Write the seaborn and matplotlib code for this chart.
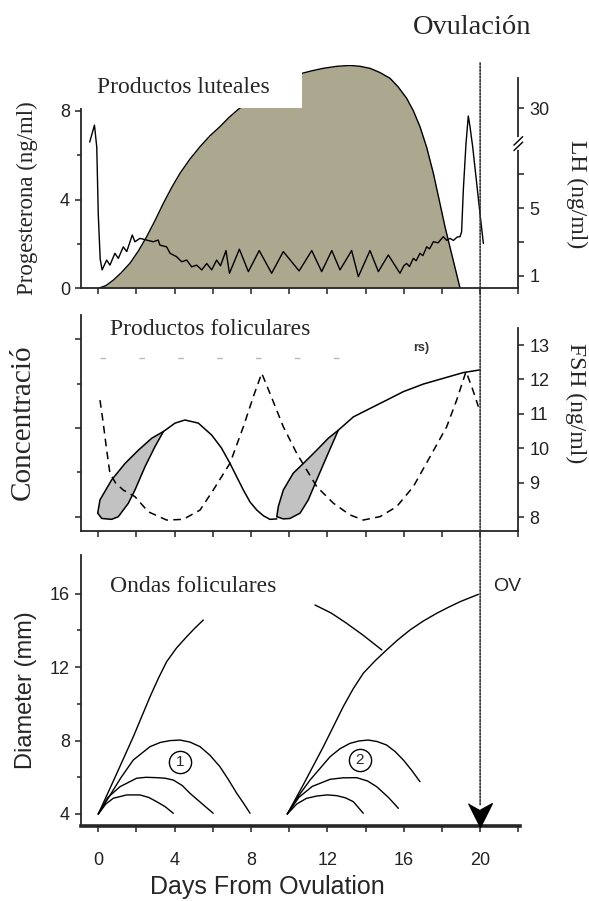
import numpy as np
import seaborn as sns
import matplotlib.pyplot as plt
from matplotlib.patches import Rectangle, ConnectionPatch

# ---------------- datos ----------------
# Panel superior: progesterona (ng/ml) y LH (posicion en el eje quebrado)
prog_day = [0, 0.4, 0.79, 1.2, 1.66, 2.1, 2.53, 2.97, 3.41, 3.85, 4.28, 4.8, 5.33, 5.85,
            6.37, 6.85, 7.33, 8.3, 9.3, 10.0, 10.65, 11.2, 11.79, 12.5, 13.19, 13.7,
            14.23, 14.75, 15.28, 15.7, 16.15, 16.5, 16.85, 17.2, 17.55, 17.85, 18.16,
            18.55, 18.95]
prog_val = [0, 0.12, 0.37, 0.7, 1.13, 1.68, 2.32, 3.05, 3.83, 4.55, 5.18, 5.82, 6.38,
            6.87, 7.28, 7.7, 8.06, 8.65, 9.15, 9.45, 9.68, 9.8, 9.91, 10.0, 10.04, 10.0,
            9.91, 9.72, 9.46, 9.08, 8.56, 8.0, 7.28, 6.35, 5.18, 4.0, 2.77, 1.4, 0]

lh_day = [-0.45, -0.2, -0.08, 0.0, 0.1, 0.2, 0.44, 0.61, 0.87, 1.05, 1.31, 1.49, 1.78,
          1.92, 2.18, 2.53, 2.88, 3.14, 3.23, 3.58, 3.76, 4.1, 4.37, 4.63, 4.89, 5.15,
          5.42, 5.68, 5.94, 6.2, 6.4, 6.69, 6.87, 7.39, 7.86, 8.43, 9.08, 9.69, 10.52,
          11.18, 11.7, 12.23, 12.66, 13.27, 13.62, 14.23, 14.67, 15.19, 15.8, 16.0,
          16.15, 16.3, 16.5, 16.65, 16.85, 17.0, 17.2, 17.35, 17.55, 17.8, 18.07, 18.25,
          18.42, 18.6, 18.8, 18.95, 19.03, 19.12, 19.26, 19.38, 19.47, 19.61, 19.82,
          20.03, 20.17]
lh_val = [3.95, 4.45, 3.8, 1.8, 0.5, 0.18, 0.47, 0.32, 0.67, 0.52, 0.86, 0.72, 1.21,
          1.01, 1.11, 1.06, 1.01, 1.06, 0.91, 0.86, 0.67, 0.57, 0.42, 0.47, 0.27, 0.32,
          0.18, 0.37, 0.18, 0.47, 0.3, 0.75, 0.08, 0.79, 0.13, 0.75, 0.08, 0.72, 0.15,
          0.75, 0.13, 0.75, 0.18, 0.75, -0.02, 0.75, 0.13, 0.62, 0.08, 0.3,
          0.37, 0.28, 0.52, 0.45, 0.67, 0.6, 0.86, 0.8, 1.01, 0.98, 1.16, 1.05,
          1.11, 1.05, 1.15, 1.16, 1.31, 2.54, 3.91, 4.72, 4.4, 3.81, 2.73,
          1.65, 0.96]
lh_tick_pos = [0, 1, 2, 3, 4.95]
lh_tick_lab = ['1', '', '5', '', '30']

# Panel medio: productos foliculares (unidades relativas) y FSH (ng/ml)
e1_day = [-0.03, 0.18, 0.70, 1.05, 1.57, 1.92, 2.45, 2.97, 3.41, 4.02, 4.54, 5.24,
          5.94, 6.45, 6.9, 7.25, 7.6, 7.95, 8.3, 8.65, 8.99, 9.35]
e1_val = [0.08, -0.04, -0.06, 0.0, 0.3, 0.6, 1.13, 1.58, 1.92, 2.11, 2.18, 2.11,
          1.84, 1.55, 1.2, 0.9, 0.6, 0.33, 0.15, 0.02, -0.06, -0.05]
leaf1_day = [-0.03, 0.09, 0.70, 1.40, 2.1, 2.8, 3.41]
leaf1_val = [0.08, 0.38, 0.83, 1.2, 1.5, 1.77, 1.92]

e2_day = [9.35, 9.69, 10.04, 10.57, 11.0, 11.44, 11.96, 12.57, 13.36, 14.23, 15.11,
          15.98, 17.02, 18.07, 19.12, 19.99]
e2_val = [0.0, -0.05, -0.04, 0.08, 0.38, 0.83, 1.35, 1.95, 2.25, 2.44, 2.63,
          2.82, 2.99, 3.12, 3.25, 3.31]
leaf2_day = [9.35, 9.43, 9.69, 10.21, 10.74, 11.44, 12.05, 12.57]
leaf2_val = [0.0, 0.23, 0.6, 0.98, 1.2, 1.5, 1.77, 1.95]

fsh_day = [0.09, 0.26, 0.44, 0.61, 0.9, 1.31, 1.92, 2.62, 3.58, 4.45, 5.33, 6.02,
           6.9, 7.6, 8.12, 8.56, 8.99, 9.69, 10.39, 11.44, 12.31, 13.18, 13.88, 14.76,
           15.63, 16.5, 17.38, 18.25, 18.77, 19.26, 19.56, 19.91]
fsh_val = [11.4, 10.73, 9.95, 9.28, 9.0, 8.79, 8.6, 8.16, 7.92, 7.94, 8.21, 8.79,
           9.57, 10.63, 11.5, 12.18, 11.6, 10.63, 9.86, 8.89, 8.41, 8.07, 7.92, 8.02,
           8.31, 8.89, 9.76, 10.63, 11.4, 12.23, 11.79, 11.21]
fsh_ticks = [8, 9, 10, 11, 12, 13]

# Panel inferior: ondas foliculares, diametro (mm)
dom1_day = [0, 0.79, 1.83, 2.71, 3.15, 3.58, 4.1, 4.63, 5.05, 5.5]
dom1_mm = [4, 5.8, 8.2, 10.39, 11.4, 12.3, 13.05, 13.66, 14.12, 14.57]
sub1a_day = [0, 0.6, 1.2, 1.83, 2.71, 3.25, 3.76, 4.28, 4.8, 5.33, 5.85, 6.37, 6.8,
             7.25, 7.6, 7.95]
sub1a_mm = [4, 5.0, 6.0, 6.94, 7.67, 7.9, 8.0, 8.03, 7.92, 7.67, 7.2, 6.58, 5.9,
            5.13, 4.6, 4.04]
sub1b_day = [0, 0.5, 1.14, 2.01, 2.5, 3.06, 3.5, 3.93, 4.4, 4.8, 5.5, 6.02]
sub1b_mm = [4, 4.9, 5.49, 5.95, 6.0, 5.98, 5.95, 5.85, 5.55, 5.13, 4.5, 4.04]
sub1c_day = [0, 0.4, 0.79, 1.49, 2.18, 2.65, 3.06, 3.5, 3.93]
sub1c_mm = [4, 4.55, 4.86, 5.04, 5.04, 4.9, 4.67, 4.4, 4.04]

reg_day = [11.35, 12.2, 13.01, 13.9, 14.85]
reg_mm = [15.39, 14.95, 14.39, 13.72, 12.94]
dom2_day = [9.9, 10.74, 11.79, 12.83, 13.35, 13.88, 14.5, 15.1, 15.7, 16.33, 17.0,
            17.73, 18.35, 18.95, 19.91]
dom2_mm = [4, 5.6, 7.67, 9.85, 10.82, 11.67, 12.35, 12.94, 13.5, 14.03, 14.5,
           14.94, 15.27, 15.57, 15.97]
sub2a_day = [9.9, 10.5, 11.09, 12.14, 12.65, 13.18, 13.65, 14.14, 14.6, 15.1, 15.55,
             15.98, 16.4, 16.85]
sub2a_mm = [4, 5.0, 5.85, 7.12, 7.55, 7.85, 7.98, 8.03, 7.95, 7.76, 7.4, 6.94, 6.4,
            5.76]
sub2b_day = [9.9, 10.5, 11.2, 12.14, 12.8, 13.53, 14.1, 14.58, 15.2, 15.72]
sub2b_mm = [4, 4.9, 5.5, 5.89, 5.97, 5.98, 5.8, 5.49, 4.9, 4.31]
sub2c_day = [9.9, 10.4, 10.9, 11.44, 12.0, 12.49, 12.95, 13.36, 13.88]
sub2c_mm = [4, 4.55, 4.85, 4.98, 5.04, 5.0, 4.88, 4.67, 4.04]

wave_lab = ['1', '2']
wave_lab_day = [4.28, 13.7]
wave_lab_mm = [6.85, 6.94]

day_ticks = list(range(0, 23, 2))

# ---------------- estilo ----------------
sns.set_style('ticks')
plt.rcParams['font.family'] = ['Liberation Sans', 'DejaVu Sans']
plt.rcParams['axes.linewidth'] = 1.3
plt.rcParams['xtick.labelsize'] = 13
plt.rcParams['ytick.labelsize'] = 13
plt.rcParams['xtick.color'] = '#222222'
plt.rcParams['ytick.color'] = '#222222'
SERIF = ['Liberation Serif', 'DejaVu Serif']
LW = 1.1
DASH = (0, (5, 3.5))

fig = plt.figure(figsize=(5.89, 9.01), dpi=100)
XL = (-0.906, 22.0)
ax1 = fig.add_axes([0.1375, 0.68002, 0.7425, 0.24762])
ax2 = fig.add_axes([0.1375, 0.41099, 0.7425, 0.23940])
ax3 = fig.add_axes([0.1375, 0.08324, 0.7425, 0.30078])


def line(ax, x, y, **kw):
    kw.setdefault('color', 'black')
    kw.setdefault('lw', LW)
    sns.lineplot(x=x, y=y, ax=ax, sort=False, estimator=None, **kw)


# ---- panel superior ----
ax1.fill_between(prog_day, prog_val, color='#aca78f', lw=0, zorder=1)
line(ax1, prog_day, prog_val, lw=1.0)
ax1.set_xlim(*XL)
ax1.set_ylim(0, 10.05)
ax1.set_yticks([0, 4, 8])
ax1.set_yticks([2, 6], minor=True)
ax1.set_xticks(day_ticks)
ax1.set_xticklabels([])
ax1.add_patch(Rectangle((-1.0, 8.11), 11.65, 2.2, facecolor='white', edgecolor='none',
                        zorder=3, clip_on=False))
ax1.text(-0.07, 8.8, 'Productos luteales', family=SERIF, size=17, zorder=4)

ax1b = ax1.twinx()
line(ax1b, lh_day, lh_val, lw=1.0)
ax1b.set_ylim(-0.363, 6.218)
ax1b.set_yticks(lh_tick_pos)
ax1b.set_yticklabels(lh_tick_lab)
ax1b.spines['right'].set_bounds(-0.363, 5.83)
tr = ax1b.get_yaxis_transform()
ax1b.plot([1, 1], [3.78, 4.05], color='white', lw=3, transform=tr, clip_on=False, zorder=5)
ax1b.plot([0.99, 1.01], [3.7, 3.95], color='black', lw=1, transform=tr, clip_on=False, zorder=6)
ax1b.plot([0.99, 1.01], [3.86, 4.11], color='black', lw=1, transform=tr, clip_on=False, zorder=6)

# ---- panel medio ----
ax2.fill(leaf1_day + e1_day[:9][::-1], leaf1_val + e1_val[:9][::-1], color='#c2c2c2', lw=0)
ax2.fill(leaf2_day + e2_day[:8][::-1], leaf2_val + e2_val[:8][::-1], color='#c2c2c2', lw=0)
line(ax2, e1_day, e1_val)
line(ax2, leaf1_day, leaf1_val)
line(ax2, e2_day, e2_val)
line(ax2, leaf2_day, leaf2_val)
ax2.plot([0.1, 13.9], [3.57, 3.57], color='#b8b8b8', lw=1, linestyle=(0, (4, 24)))
ax2.text(16.9, 3.8, 'rs)', size=9, weight='bold', color='#333333', ha='center', va='center')
ax2.text(0.62, 4.10, 'Productos foliculares', family=SERIF, size=17)
ax2.set_xlim(*XL)
ax2.set_ylim(-0.316, 4.548)
ax2.set_yticks([0, 2, 4])
ax2.set_yticks([1, 3], minor=True)
ax2.set_yticklabels([])
ax2.set_xticks(day_ticks)
ax2.set_xticklabels([])

ax2b = ax2.twinx()
line(ax2b, fsh_day, fsh_val, linestyle=DASH)
ax2b.set_ylim(7.611, 13.871)
ax2b.set_yticks(fsh_ticks)
ax2b.spines['right'].set_bounds(7.611, 13.48)

# ---- panel inferior ----
for d, m in [(dom1_day, dom1_mm), (sub1a_day, sub1a_mm), (sub1b_day, sub1b_mm),
             (sub1c_day, sub1c_mm), (reg_day, reg_mm), (dom2_day, dom2_mm),
             (sub2a_day, sub2a_mm), (sub2b_day, sub2b_mm), (sub2c_day, sub2c_mm)]:
    line(ax3, d, m, lw=1.0)
for lab, d, m in zip(wave_lab, wave_lab_day, wave_lab_mm):
    ax3.plot(d, m, 'o', ms=16, mfc='white', mec='black', mew=1.0, zorder=4)
    ax3.text(d, m, lab, ha='center', va='center', size=11, zorder=5)
ax3.text(0.62, 16.11, 'Ondas foliculares', family=SERIF, size=17)
ax3.text(21.43, 16.4, 'OV', ha='center', va='center', size=14)
ax3.plot(20, 3.95, marker=[(-1, 1), (0, -1), (1, 1), (0, 0.45)], ms=17, color='black',
         clip_on=False, zorder=6)
ax3.set_xlim(*XL)
ax3.set_ylim(3.346, 18.114)
ax3.set_yticks([4, 8, 12, 16])
ax3.set_yticks([6, 10, 14], minor=True)
ax3.set_xticks(list(range(0, 21, 4)))
ax3.set_xticks([2, 6, 10, 14, 18, 22], minor=True)
ax3.spines['bottom'].set_linewidth(2.6)
ax3.spines['bottom'].set_bounds(-0.906, 22.1)

for ax in (ax1, ax2, ax3, ax1b, ax2b):
    ax.set_xlabel('')
    ax.set_ylabel('')
    ax.spines['top'].set_visible(False)
    ax.tick_params(which='major', length=4.5, width=1.1, direction='out')
    ax.tick_params(which='minor', length=3, width=1.1, direction='out')
for ax in (ax1, ax2, ax3):
    ax.spines['right'].set_visible(False)
for ax in (ax1b, ax2b):
    ax.spines['left'].set_visible(False)
    ax.spines['bottom'].set_visible(False)
ax3.tick_params(axis='x', which='both', length=4.5, pad=14)

# linea de ovulacion (dia 20) que cruza los tres paneles
con = ConnectionPatch(xyA=(20, 10.15), coordsA=ax1.transData, xyB=(20, 4.45),
                      coordsB=ax3.transData, color='#333333', lw=1.2,
                      linestyle=(0, (1, 1)))
fig.add_artist(con)

# textos de ejes
fig.text(472 / 589, 1 - 28 / 901, 'Ovulación', family=SERIF, size=20.5, ha='center', va='center')
fig.text(27.5 / 589, 1 - 198 / 901, 'Progesterona (ng/ml)', family=SERIF, size=16.5,
         rotation=90, ha='center', va='center')
fig.text(22.5 / 589, 1 - 422 / 901, 'Concentració', family=SERIF, size=21,
         rotation=90, ha='center', va='center')
fig.text(576.5 / 589, 1 - 194 / 901, 'LH (ng/ml)', family=SERIF, size=17,
         rotation=270, ha='center', va='center')
fig.text(576 / 589, 1 - 403 / 901, 'FSH (ng/ml)', family=SERIF, size=17,
         rotation=270, ha='center', va='center')
fig.text(26.5 / 589, 1 - 690 / 901, 'Diameter (mm)', size=17, rotation=90,
         ha='center', va='center')
fig.text(267 / 589, 1 - 887 / 901, 'Days From Ovulation', size=18, ha='center', va='center')

fig.savefig('out.png', dpi=100)
